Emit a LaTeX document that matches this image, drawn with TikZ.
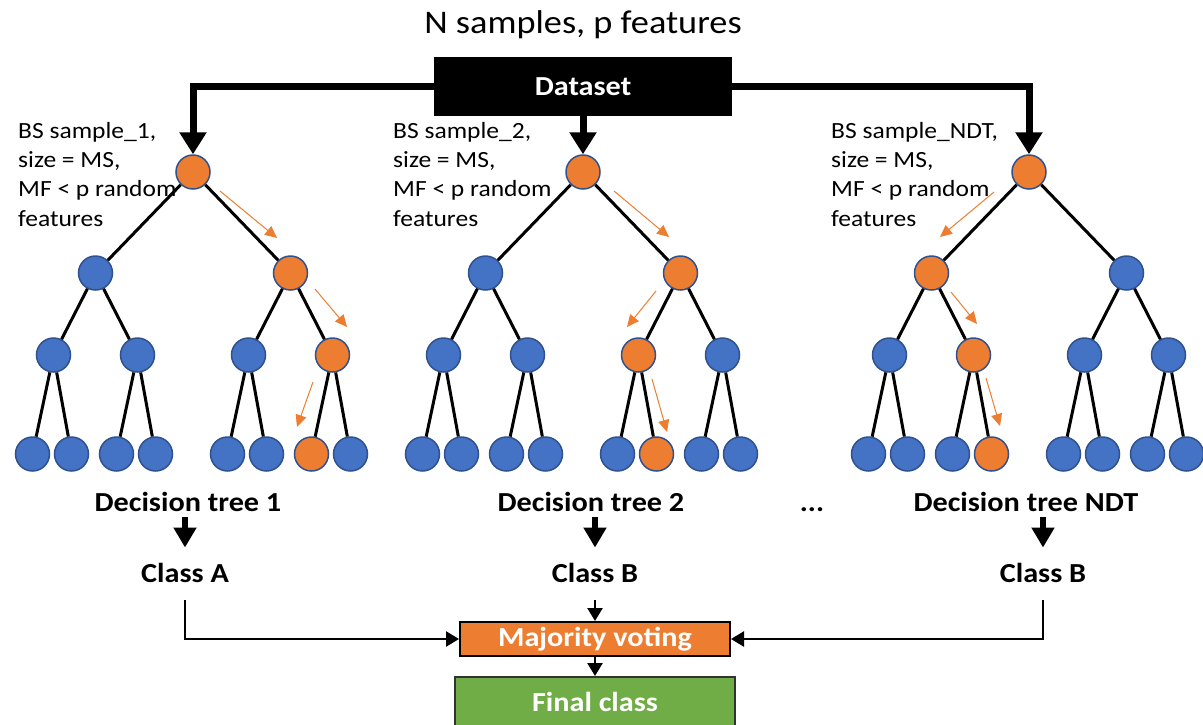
\documentclass[tikz,border=0pt]{standalone}
\usepackage{fontspec}
\setmainfont[FakeStretch=1.1]{Carlito}
\usetikzlibrary{arrows.meta,calc}

\definecolor{nodeblue}{HTML}{4472C4}
\definecolor{nodeorange}{HTML}{ED7D31}
\definecolor{nodeedge}{HTML}{2F528F}
\definecolor{finalgreen}{HTML}{70AD47}

\tikzset{
  cold/.style={circle, draw=nodeedge, line width=1.5pt, fill=nodeblue, minimum size=34pt, inner sep=0pt},
  hot/.style={cold, fill=nodeorange},
  branch/.style={line width=3pt},
  feed/.style={line width=7pt, -{Triangle[length=22pt,width=26pt]}},
  route/.style={line width=6pt, -{Triangle[length=20pt,width=22pt]}},
  vote/.style={line width=2.5pt, -{Triangle[length=13pt,width=15pt]}},
  hint/.style={nodeorange, line width=1pt, -{Triangle[length=12pt,width=11pt]}},
  treename/.style={font=\fontsize{27.5}{33}\selectfont\bfseries, inner sep=0pt, anchor=base},
  note/.style={font=\fontsize{23.2}{29.3}\selectfont, align=left, inner sep=0pt, anchor=north west},
  whitebox/.style={font=\fontsize{27.5}{33}\selectfont\bfseries, text=white}
}

\begin{document}
\begin{tikzpicture}[x=1pt, y=-1pt]
    \useasboundingbox (0,0) rectangle (1203,724);

    % Dataset and title
    \node[font=\fontsize{33}{40}\selectfont] (title) at (583,25) {N samples, p features};
    \node[whitebox, fill=black, minimum width=298pt, minimum height=59pt] (dataset) at (583,86.5) {Dataset};

    % Bootstrap notes
    \node[note] (bs1) at (18,122) {BS sample\_1,\\size = MS,\\MF < p random\\features};
    \node[note] (bs2) at (393,122) {BS sample\_2,\\size = MS,\\MF < p random\\features};
    \node[note] (bs3) at (831,122) {BS sample\_NDT,\\size = MS,\\MF < p random\\features};

    % Trees: root x, orange node on level 1, 2 and 3
    \foreach \tr/\x/\ra/\rb/\rc in {1/193/2/4/7, 2/583/2/3/6, 3/1029/1/2/4}{
      \node[hot] (t\tr) at (\x,172) {};
      \foreach \i in {1,2}{
        \def\st{cold}\ifnum\i=\ra \def\st{hot}\fi
        \node[\st] (t\tr a\i) at ($(t\tr)+({195*\i-292.5},101)$) {};
        \draw[branch] (t\tr) -- (t\tr a\i);
        \foreach \s in {1,2}{
          \pgfmathtruncatemacro\j{2*\i+\s-2}
          \def\st{cold}\ifnum\j=\rb \def\st{hot}\fi
          \node[\st] (t\tr b\j) at ($(t\tr a\i)+({84*\s-126},82)$) {};
          \draw[branch] (t\tr a\i) -- (t\tr b\j);
          \foreach \u in {1,2}{
            \pgfmathtruncatemacro\k{2*\j+\u-2}
            \def\st{cold}\ifnum\k=\rc \def\st{hot}\fi
            \node[\st] (t\tr c\k) at ($(t\tr b\j)+({39*\u-60},99)$) {};
            \draw[branch] (t\tr b\j) -- (t\tr c\k);
          }
        }
      }
    }

    % Orange path hints
    \foreach \ax/\ay/\bx/\by in {220/191/277/238, 315/289/347/327, 313/382/297/427,
                                 614/191/669/237, 656/291/627/327, 652/379/667/432,
                                 994/192/940/237, 951/292/977/324, 986/378/1000/426}{
      \draw[hint] (\ax,\ay) -- (\bx,\by);
    }

    % Feeding the trees
    \draw[feed] (dataset.west) -| (t1);
    \draw[feed] (dataset.east) -| (t3);
    \draw[feed] (dataset) -- (t2);

    % Tree names and classes
    \node[treename] (dt1) at (188,511) {Decision tree 1};
    \node[treename] (dt2) at (591,511) {Decision tree 2};
    \node[treename] (dots) at (812,511) {...};
    \node[treename] (dt3) at (1026,511) {Decision tree NDT};
    \node[treename] (cls1) at (185,582) {Class A};
    \node[treename] (cls2) at (595,582) {Class B};
    \node[treename] (cls3) at (1043,582) {Class B};

    \draw[route, shorten <=6pt, shorten >=15pt] (cls1.north |- dt1.south) -- (cls1.north);
    \draw[route, shorten <=6pt, shorten >=15pt] (cls2.north |- dt2.south) -- (cls2.north);
    \draw[route, shorten <=6pt, shorten >=15pt] (cls3.north |- dt3.south) -- (cls3.north);

    % Voting
    \node[whitebox, draw=black, line width=2pt, fill=nodeorange, minimum width=270pt, minimum height=34pt, inner sep=0pt] (vote) at (595,639) {Majority voting};
    \node[whitebox, draw=black!80, line width=2pt, fill=finalgreen, minimum width=280pt, minimum height=50pt] (final) at (595,702) {Final class};

    \draw[vote, shorten <=18pt] (cls1.south) |- (vote.west);
    \draw[vote, shorten <=18pt] (cls3.south) |- (vote.east);
    \draw[vote, shorten <=18pt] (cls2.south) -- (vote.north);
    \draw[vote] (vote.south) -- (final.north);
\end{tikzpicture}
\end{document}
